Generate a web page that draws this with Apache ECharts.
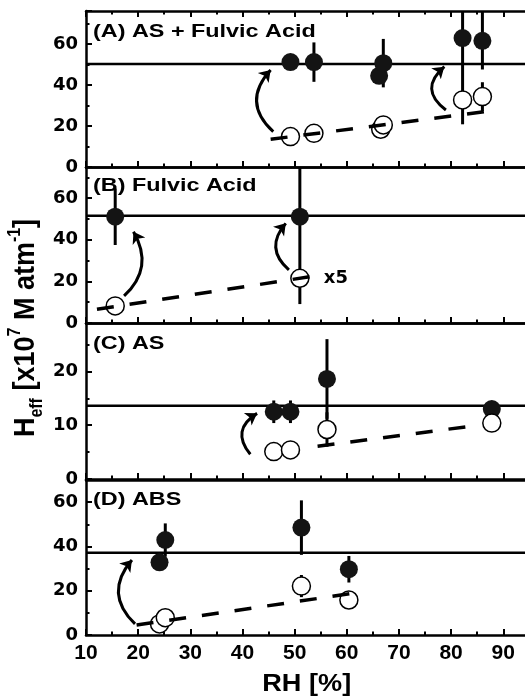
<!DOCTYPE html>
<html><head><meta charset="utf-8">
<script src="https://cdn.jsdelivr.net/npm/echarts@6/dist/echarts.min.js"></script>
<style>html,body{margin:0;padding:0;background:#fff}#c{width:525px;height:698px}</style>
</head><body><div id="c"></div>
<script>
// ---------- data ----------
const xTicks = [10, 20, 30, 40, 50, 60, 70, 80, 90];
// Panel A: AS + Fulvic Acid
const aFilledX = [49.2, 53.7, 66.2, 67.0, 82.2, 86.0];
const aFilledY = [51.1, 51.1, 44.4, 50.6, 62.8, 61.5];
const aFilledErr = [1.5, 9.6, 2.5, 11.8, 42, 14];
const aOpenX = [49.2, 53.7, 66.5, 67.0, 82.2, 86.0];
const aOpenY = [14.8, 16.4, 18.4, 20.5, 32.7, 34.3];
const aOpenErr = [4.6, 2.2, 4, 3, 3, 7];
const aFitX = [45.4, 86.7];
const aFitY = [13.5, 27.0];
const aRef = 50.2;
const aArrows = [[[45.9, 17.2], [45.4, 47.3]], [[79.0, 27.8], [78.7, 48.9]]];
// Panel B: Fulvic Acid
const bFilledX = [15.6, 51.0];
const bFilledY = [51.1, 51.1];
const bFilledErr = [13.6, 42];
const bOpenX = [15.6, 51.0];
const bOpenY = [8.2, 21.5];
const bOpenErr = [4, 3];
const bFitX = [12.1, 53.1];
const bFitY = [6.6, 22.3];
const bRef = 51.6;
const bArrows = [[[17.3, 13.0], [19.1, 43.9]], [[48.9, 25.5], [48.3, 47.9]]];
const bNote = {x: 55.6, y: 21.5, text: 'x5'};
// Panel C: AS
const cFilledX = [46.0, 49.2, 56.2, 87.8];
const cFilledY = [12.5, 12.5, 18.6, 13.0];
const cFilledErr = [2.1, 2.1, 7.4, 1];
const cOpenX = [46.0, 49.2, 56.2, 87.8];
const cOpenY = [5.1, 5.4, 9.2, 10.4];
const cOpenErr = [1.3, 1.1, 3.2, 1.2];
const cFitX = [54.4, 82.9];
const cFitY = [6.1, 9.7];
const cRef = 13.6;
const cArrows = [[[41.5, 4.6], [42.8, 12.2]]];
// Panel D: ABS
const dFilledX = [24.1, 25.2, 51.3, 60.4];
const dFilledY = [32.8, 42.9, 48.5, 29.7];
const dFilledErr = [3, 7.5, 12.3, 6];
const dOpenX = [24.1, 25.2, 51.3, 60.4];
const dOpenY = [5.0, 7.8, 22.1, 15.8];
const dOpenErr = [2, 4, 5, 4];
const dFitX = [19.7, 61.1];
const dFitY = [4.5, 18.8];
const dRef = 37.2;
const dArrows = [[[19.4, 5.0], [18.8, 33.9]]];

const panelTitles = ['(A) AS + Fulvic Acid', '(B) Fulvic Acid', '(C) AS', '(D) ABS'];
const xMin = 10, xMax = 98;
const yMaxes = [76, 75, 29, 70];
const yIntervals = [20, 20, 10, 20];

// ---------- layout / style ----------
const arrowCurves = [[0.5, 0.62], [-0.4, 0.5], [0.57], [0.47]];
const gridTops = [11, 167, 323, 480];
const gridHeights = [156, 156, 156, 155];
const titleY = [31.7, 186, 343.3, 499.7];

const panels = [
  {fx: aFilledX, fy: aFilledY, fe: aFilledErr, ox: aOpenX, oy: aOpenY, oe: aOpenErr, fitX: aFitX, fitY: aFitY, ref: aRef, arrows: aArrows},
  {fx: bFilledX, fy: bFilledY, fe: bFilledErr, ox: bOpenX, oy: bOpenY, oe: bOpenErr, fitX: bFitX, fitY: bFitY, ref: bRef, arrows: bArrows},
  {fx: cFilledX, fy: cFilledY, fe: cFilledErr, ox: cOpenX, oy: cOpenY, oe: cOpenErr, fitX: cFitX, fitY: cFitY, ref: cRef, arrows: cArrows},
  {fx: dFilledX, fy: dFilledY, fe: dFilledErr, ox: dOpenX, oy: dOpenY, oe: dOpenErr, fitX: dFitX, fitY: dFitY, ref: dRef, arrows: dArrows}
];

const BLACK = '#000';
const AXW = 2.5;

function errRender(params, api) {
  const x = api.value(0), lo = api.value(1), hi = api.value(2);
  const p1 = api.coord([x, lo]), p2 = api.coord([x, hi]);
  const cs = params.coordSys;
  const top = cs.y, bot = cs.y + cs.height;
  const y1 = Math.min(Math.max(p1[1], top), bot);
  const y2 = Math.min(Math.max(p2[1], top), bot);
  return {type: 'line', shape: {x1: p1[0], y1: y1, x2: p2[0], y2: y2}, style: {stroke: BLACK, lineWidth: 3}};
}

const grids = [], xAxes = [], yAxes = [], series = [];
panels.forEach((p, i) => {
  grids.push({left: 86, width: 459, top: gridTops[i], height: gridHeights[i], outerBoundsMode: 'none'});
  const tick = {show: true, inside: true, length: 6, lineStyle: {color: BLACK, width: 2}};
  const minor = {show: true, splitNumber: 2, length: 3.5, lineStyle: {color: BLACK, width: 2}};
  const line = {show: true, onZero: false, lineStyle: {color: BLACK, width: AXW}};
  xAxes.push({
    gridIndex: i, type: 'value', min: xMin, max: xMax, interval: 10, position: 'bottom',
    axisLine: line, axisTick: tick, minorTick: minor, splitLine: {show: false},
    axisLabel: {show: i === 3, margin: 8, color: BLACK, fontFamily: 'Liberation Sans', fontWeight: 'bold', fontSize: 21,
      showMaxLabel: false, formatter: v => (xTicks.indexOf(v) >= 0 ? String(v) : '')}
  });
  xAxes.push({
    gridIndex: i, type: 'value', min: xMin, max: xMax, interval: 10, position: 'top',
    axisLine: line, axisTick: Object.assign({}, tick, {show: i === 0}), minorTick: Object.assign({}, minor, {show: i === 0}),
    splitLine: {show: false}, axisLabel: {show: false}
  });
  yAxes.push({
    gridIndex: i, type: 'value', min: 0, max: yMaxes[i], interval: yIntervals[i], position: 'left',
    axisLine: line, axisTick: tick, minorTick: minor, splitLine: {show: false},
    axisLabel: {margin: 8, color: BLACK, fontFamily: 'DejaVu Sans', fontWeight: 'bold', fontSize: 18,
      showMaxLabel: false, formatter: v => (v % yIntervals[i] === 0 ? String(v) : '')}
  });
  const xi = 2 * i, yi = i;
  series.push({type: 'custom', xAxisIndex: xi, yAxisIndex: yi, renderItem: errRender, z: 1,
    encode: {x: 0, y: [1, 2]},
    data: p.fx.map((x, k) => [x, p.fy[k] - p.fe[k], p.fy[k] + p.fe[k]])});
  series.push({type: 'line', xAxisIndex: xi, yAxisIndex: yi, symbol: 'none', z: 2, silent: true,
    lineStyle: {color: BLACK, width: 2.5}, data: [[xMin, p.ref], [xMax, p.ref]]});
  series.push({type: 'scatter', xAxisIndex: xi, yAxisIndex: yi, symbol: 'circle', symbolSize: 18, z: 3,
    itemStyle: {color: '#141414', opacity: 1}, data: p.fx.map((x, k) => [x, p.fy[k]])});
  series.push({type: 'custom', xAxisIndex: xi, yAxisIndex: yi, renderItem: errRender, z: 3,
    encode: {x: 0, y: [1, 2]},
    data: p.ox.map((x, k) => [x, p.oy[k] - p.oe[k], p.oy[k] + p.oe[k]])});
  series.push({type: 'scatter', xAxisIndex: xi, yAxisIndex: yi, symbol: 'circle', symbolSize: 18, z: 4,
    itemStyle: {color: '#fff', borderColor: BLACK, borderWidth: 1.5, opacity: 1}, data: p.ox.map((x, k) => [x, p.oy[k]])});
  series.push({type: 'line', xAxisIndex: xi, yAxisIndex: yi, symbol: 'none', z: 6, silent: true,
    lineStyle: {color: BLACK, width: 3.5, type: [17, 16], cap: 'butt'},
    data: p.fitX.map((x, k) => [x, p.fitY[k]])});
  series.push({type: 'lines', coordinateSystem: 'cartesian2d', xAxisIndex: xi, yAxisIndex: yi, z: 6,
    symbol: ['none', 'arrow'], symbolSize: [10, 11], silent: true,
    lineStyle: {color: BLACK, width: 3, opacity: 1},
    data: p.arrows.map((c, k) => ({coords: c, lineStyle: {curveness: arrowCurves[i][k]}}))});
});
// "x5" note in panel B
series.push({type: 'custom', xAxisIndex: 2, yAxisIndex: 1, z: 7, silent: true,
  encode: {x: 0, y: 1},
  data: [[bNote.x, bNote.y]],
  renderItem: (params, api) => {
    const pt = api.coord([api.value(0), api.value(1)]);
    return {type: 'text', x: pt[0], y: pt[1],
      style: {text: bNote.text, font: 'bold 18px "DejaVu Sans"', fill: BLACK, align: 'left', verticalAlign: 'middle'}};
  }});

const graphics = panelTitles.map((t, i) => ({
  type: 'text', x: 93, y: titleY[i], scaleX: 1.23, z: 100,
  style: {text: t, font: 'bold 19px "Liberation Sans"', fill: BLACK, align: 'left', verticalAlign: 'middle'}
}));
graphics.push({type: 'text', x: 306.7, y: 685, scaleX: 1.18, z: 100,
  style: {text: 'RH [%]', font: 'bold 23px "Liberation Sans"', fill: BLACK, align: 'center', verticalAlign: 'middle'}});
graphics.push({type: 'text', x: 26, y: 328, rotation: Math.PI / 2, scaleY: 1.12, z: 100,
  style: {
    text: '{b|H}{s|eff}{b| [x10}{p|7}{b| M atm}{p|-1}{b|]}',
    align: 'center', verticalAlign: 'middle', fill: BLACK,
    rich: {
      b: {fontFamily: 'Liberation Sans', fontWeight: 'bold', fontSize: 27, lineHeight: 36, verticalAlign: 'middle', fill: BLACK},
      s: {fontFamily: 'Liberation Sans', fontWeight: 'bold', fontSize: 16, verticalAlign: 'bottom', fill: BLACK},
      p: {fontFamily: 'Liberation Sans', fontWeight: 'bold', fontSize: 16, verticalAlign: 'top', fill: BLACK}
    }
  }});

const chart = echarts.init(document.getElementById('c'), null, {renderer: 'canvas'});
chart.setOption({
  animation: false,
  backgroundColor: '#fff',
  grid: grids, xAxis: xAxes, yAxis: yAxes, series: series, graphic: graphics
});
</script></body></html>
